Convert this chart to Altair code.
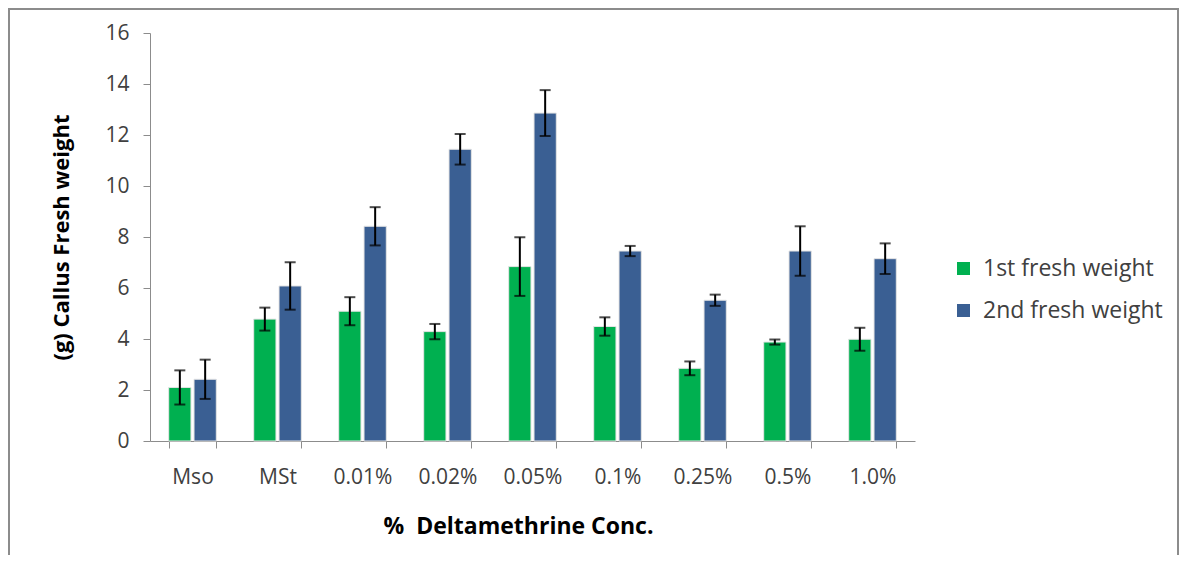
import altair as alt
import pandas as pd

categories = ["Mso", "MSt", "0.01%", "0.02%", "0.05%", "0.1%", "0.25%", "0.5%", "1.0%"]
series = ["1st fresh weight", "2nd fresh weight"]
first_weight = [2.10, 4.78, 5.09, 4.29, 6.84, 4.49, 2.85, 3.88, 3.99]
second_weight = [2.42, 6.08, 8.42, 11.44, 12.86, 7.45, 5.52, 7.45, 7.15]
first_err = [0.67, 0.45, 0.55, 0.30, 1.15, 0.36, 0.27, 0.10, 0.45]
second_err = [0.77, 0.93, 0.75, 0.60, 0.90, 0.20, 0.22, 0.97, 0.60]
y_ticks = [0, 2, 4, 6, 8, 10, 12, 14, 16]
colors = ["#00b050", "#3a5f93"]

rows = []
for i, c in enumerate(categories):
    for s, vals, errs in ((series[0], first_weight, first_err),
                          (series[1], second_weight, second_err)):
        rows.append(dict(cat=c, series=s, value=vals[i],
                         lo=vals[i] - errs[i], hi=vals[i] + errs[i]))
df = pd.DataFrame(rows)

W, H = 765, 408
FONT = "Open Sans"

x_enc = alt.X(
    "cat:N", sort=categories, title="%\u00a0\u00a0Deltamethrine Conc.",
    scale=alt.Scale(paddingInner=0.44, paddingOuter=0.22),
    axis=alt.Axis(tickBand="extent", labelAngle=0, labelFontSize=21,
                  labelPadding=18, tickSize=7, titleFontSize=23,
                  titleFontWeight="bold", titlePadding=28, titleX=368),
)
xo_enc = alt.XOffset("series:N", sort=series,
                     scale=alt.Scale(paddingInner=0.12, paddingOuter=0))
y_scale = alt.Scale(domain=[0, 16], nice=False)

base = alt.Chart(df).encode(x=x_enc, xOffset=xo_enc)

bars = base.mark_bar(stroke="#e4e4e4", strokeWidth=1).encode(
    y=alt.Y("value:Q", scale=y_scale, title="(g) Callus Fresh weight",
            axis=alt.Axis(values=y_ticks, grid=False, labelFontSize=21,
                          labelPadding=14, tickSize=7, titleFontSize=22,
                          titleFontWeight="bold", titlePadding=31)),
    color=alt.Color("series:N", sort=series,
                    scale=alt.Scale(domain=series, range=colors),
                    legend=alt.Legend(title=None, orient="none", legendX=802,
                                      legendY=224, symbolType="square",
                                      symbolSize=170, labelFontSize=23,
                                      rowPadding=18, labelOffset=8,
                                      labelLimit=400, symbolStrokeWidth=0)),
)
rules = base.mark_rule(color="black", strokeWidth=2).encode(
    y=alt.Y("lo:Q", scale=y_scale), y2="hi:Q")
cap_hi = base.mark_tick(color="black", thickness=2, size=11).encode(
    y=alt.Y("hi:Q", scale=y_scale))
cap_lo = base.mark_tick(color="black", thickness=2, size=11).encode(
    y=alt.Y("lo:Q", scale=y_scale))

frame = alt.Chart(pd.DataFrame({"f": [0]})).mark_rect(
    fill="transparent", stroke="#8c8c8c", strokeWidth=2).encode(
    x=alt.value(-141), x2=alt.value(1028), y=alt.value(-24), y2=alt.value(560))

chart = alt.layer(frame, bars, rules, cap_hi, cap_lo).properties(
    width=W, height=H,
    autosize=alt.AutoSizeParams(type="none"),
    padding={"left": 142, "top": 25, "right": 264, "bottom": 114},
).configure_view(stroke=None).configure_axis(
    domainColor="#8c8c8c", tickColor="#8c8c8c", labelColor="#404040",
    titleColor="#000000", labelFont=FONT, titleFont=FONT,
).configure_legend(labelFont=FONT, labelColor="#404040")

chart.save("out.html", embed_options={"renderer": "svg", "actions": False})
